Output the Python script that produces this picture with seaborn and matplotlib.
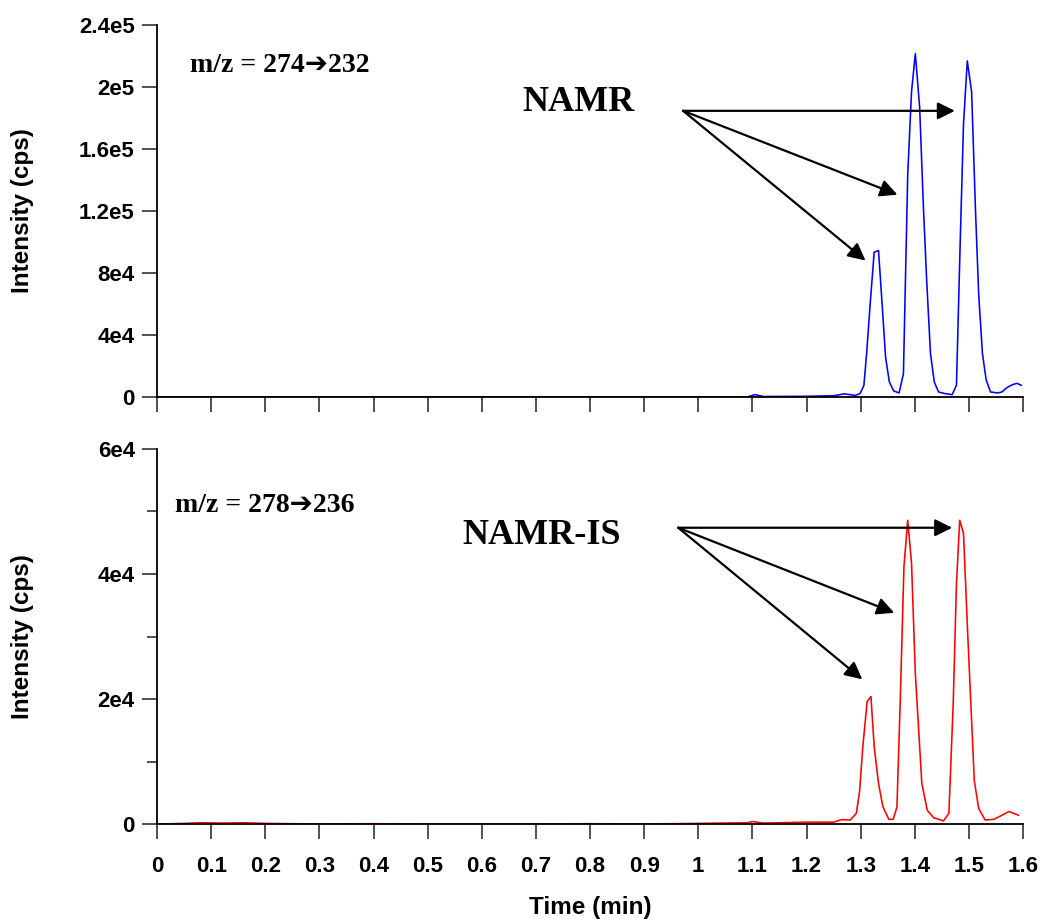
import numpy as np
import matplotlib
matplotlib.use('Agg')
import matplotlib.pyplot as plt
import seaborn as sns

TICKSLABEL_FONT = {'family': 'Liberation Sans', 'size': 16, 'weight': 'bold', 'color': 'black'}
LABEL_FONT = {'family': 'Liberation Sans', 'size': 17.5, 'weight': 'bold', 'color': 'black'}
MZ_FONT = {'family': ['Liberation Serif', 'DejaVu Sans'], 'size': 20, 'weight': 'bold', 'color': 'black'}
NAME_FONT = {'family': ['Liberation Serif', 'DejaVu Serif'], 'size': 26, 'weight': 'bold', 'color': 'black'}

# NAMR channel, m/z 274 -> 232
NAMR_TIME = [0, 0.1, 0.2, 0.3, 0.4, 0.5, 0.6, 0.7, 0.8, 0.9, 1.0,
             1.09, 1.105, 1.12, 1.2, 1.25, 1.27, 1.29,
             1.299, 1.306, 1.311, 1.318, 1.325, 1.333, 1.340, 1.346, 1.353, 1.361, 1.371, 1.379,
             1.387, 1.394, 1.401, 1.409, 1.416, 1.422, 1.429, 1.436, 1.444, 1.455, 1.469, 1.477,
             1.484, 1.490, 1.497, 1.505, 1.512, 1.518, 1.525, 1.532, 1.540, 1.553, 1.561, 1.568,
             1.575, 1.582, 1.589, 1.597]
NAMR_INT = [0, 0, 0, 0, 0, 0, 0, 0, 0, 0, 0,
            0, 1500, 300, 400, 800, 2000, 1000,
            2200, 7500, 28000, 62000, 93400, 94500, 58000, 25800, 9700, 3900, 2600, 15000,
            144000, 197000, 221500, 186700, 122000, 75000, 28000, 9700, 3200, 2200, 1500, 7500,
            101000, 176000, 216800, 197000, 122000, 66700, 28000, 10800, 3200, 2600, 3200, 5400,
            7000, 8100, 8800, 7500]

# internal standard channel, m/z 278 -> 236
IS_TIME = [0, 0.05, 0.08, 0.12, 0.16, 0.2, 0.3, 0.4, 0.5, 0.6, 0.7, 0.8, 0.9, 1.0,
           1.09, 1.1, 1.12, 1.2, 1.25, 1.265,
           1.281, 1.292, 1.298, 1.304, 1.312, 1.319, 1.325, 1.333, 1.341, 1.352, 1.360, 1.367,
           1.373, 1.380, 1.387, 1.394, 1.401, 1.413, 1.423, 1.435, 1.453, 1.463,
           1.471, 1.477, 1.483, 1.490, 1.498, 1.510, 1.518, 1.530, 1.546, 1.561, 1.574, 1.592]
IS_INT = [0, 100, 200, 150, 200, 100, 0, 50, 0, 0, 0, 50, 0, 100,
          200, 400, 150, 300, 300, 700,
          640, 1700, 5200, 12400, 19600, 20400, 12400, 6500, 2800, 750, 750, 2700,
          19300, 41200, 48600, 41700, 24100, 6500, 2200, 1000, 500, 1700,
          19300, 38500, 48600, 46500, 30000, 6900, 2500, 650, 750, 1400, 2000, 1400]

XTICKS = [0, 0.1, 0.2, 0.3, 0.4, 0.5, 0.6, 0.7, 0.8, 0.9, 1.0, 1.1, 1.2, 1.3, 1.4, 1.5, 1.6]
XTICK_LABELS = ['0', '0.1', '0.2', '0.3', '0.4', '0.5', '0.6', '0.7', '0.8', '0.9',
                '1', '1.1', '1.2', '1.3', '1.4', '1.5', '1.6']
NAMR_YTICKS = [0, 4e4, 8e4, 1.2e5, 1.6e5, 2e5, 2.4e5]
NAMR_YLABELS = ['0', '4e4', '8e4', '1.2e5', '1.6e5', '2e5', '2.4e5']
IS_YTICKS = [0, 2e4, 4e4, 6e4]
IS_YLABELS = ['0', '2e4', '4e4', '6e4']
IS_YMINOR = [1e4, 3e4, 5e4]


def plot_channel(ax, t, y, color, yticks, ylabels, ymax, mz, name, name_xy, mz_xy,
                 arrow_start, arrow_ends, minor=None, xlabels=False):
    sns.lineplot(x=t, y=y, ax=ax, color=color, lw=1.15)
    ax.set_xlim(0, 1.6)
    ax.set_ylim(0, ymax)
    ax.set_xticks(XTICKS)
    if xlabels:
        ax.set_xticklabels(XTICK_LABELS, fontdict=TICKSLABEL_FONT)
        ax.set_xlabel('Time (min)', fontdict=LABEL_FONT, labelpad=14)
    else:
        ax.set_xticklabels([])
    ax.set_yticks(yticks)
    ax.set_yticklabels(ylabels, fontdict=TICKSLABEL_FONT)
    if minor:
        ax.set_yticks(minor, minor=True)
    ax.set_ylabel('Intensity (cps)', fontdict=LABEL_FONT)
    ax.yaxis.set_label_coords(-0.142, 0.5)
    ax.tick_params(axis='both', which='major', direction='out', length=11, width=1.2,
                   color='#333333', pad=5)
    ax.tick_params(axis='x', pad=12)
    ax.tick_params(axis='y', which='minor', direction='out', length=7, width=1.2, color='#333333')
    sns.despine(ax=ax)
    for s in ['left', 'bottom']:
        ax.spines[s].set_linewidth(1.3)
        ax.spines[s].set_color('black')
    ax.text(mz_xy[0], mz_xy[1], mz, fontdict=MZ_FONT, ha='left', va='center')
    ax.text(name_xy[0], name_xy[1], name, fontdict=NAME_FONT, ha='left', va='center')
    for end in arrow_ends:
        ax.annotate('', xy=end, xytext=arrow_start,
                    arrowprops=dict(arrowstyle='-|>', mutation_scale=26, lw=1.6, color='black',
                                    shrinkA=0, shrinkB=0))


sns.set_style('ticks')
plt.rcParams['font.family'] = ['Liberation Sans', 'DejaVu Sans']
plt.rcParams['text.color'] = 'black'

fig = plt.figure(figsize=(10.42, 9.21), dpi=100)
ax1 = fig.add_axes([0.1507, 0.5690, 0.8311, 0.4039])
ax2 = fig.add_axes([0.1507, 0.1053, 0.8311, 0.4072])

plot_channel(ax1, NAMR_TIME, NAMR_INT, '#0000FF', NAMR_YTICKS, NAMR_YLABELS, 2.4e5,
             'm/z = 274\u2794232', 'NAMR', (0.675, 1.90e5), (0.061, 2.136e5),
             (0.972, 1.846e5), [(1.474, 1.846e5), (1.368, 1.305e5), (1.309, 0.88e5)])
plot_channel(ax2, IS_TIME, IS_INT, '#FF0000', IS_YTICKS, IS_YLABELS, 6e4,
             'm/z = 278\u2794236', 'NAMR-IS', (0.564, 4.62e4), (0.033, 5.10e4),
             (0.963, 4.74e4), [(1.469, 4.74e4), (1.362, 3.38e4), (1.303, 2.315e4)],
             minor=IS_YMINOR, xlabels=True)

plt.savefig('out.png', dpi=100)
